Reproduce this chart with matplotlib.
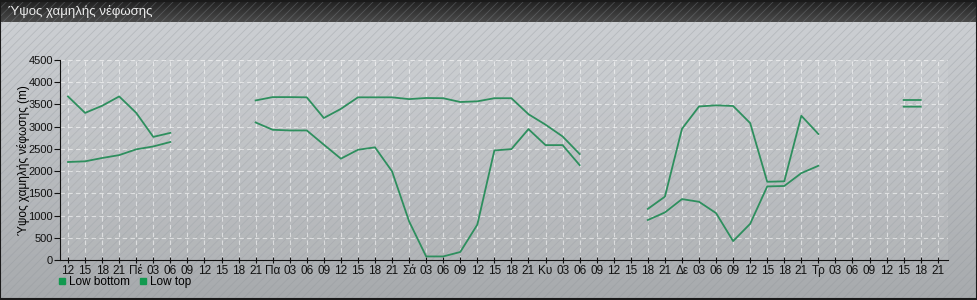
import numpy as np
import matplotlib
matplotlib.use("Agg")
import matplotlib.pyplot as plt
from matplotlib.patches import Rectangle
from matplotlib.colors import LinearSegmentedColormap

plt.rcParams['font.family'] = ['Liberation Sans', 'DejaVu Sans']
plt.rcParams['hatch.linewidth'] = 0.6

N = None
tick_labels = ['12', '15', '18', '21',
               'Πέ', '03', '06', '09', '12', '15', '18', '21',
               'Πα', '03', '06', '09', '12', '15', '18', '21',
               'Σά', '03', '06', '09', '12', '15', '18', '21',
               'Κυ', '03', '06', '09', '12', '15', '18', '21',
               'Δε', '03', '06', '09', '12', '15', '18', '21',
               'Τρ', '03', '06', '09', '12', '15', '18', '21']

low_top = [3680, 3310, 3470, 3680, 3310, 2770, 2860, N, N, N, N,
           3590, 3665, 3665, 3660, 3195, 3400, 3660, 3660, 3660, 3620,
           3645, 3640, 3555, 3570, 3640, 3640, 3280, 3045, 2780, 2385,
           N, N, N,
           1150, 1425, 2950, 3455, 3480, 3465, 3080, 1760, 1770, 3245, 2835,
           N, N, N, N, 3600, 3600, N]

low_bottom = [2205, 2220, 2295, 2360, 2490, 2555, 2655, N, N, N, N,
              3095, 2930, 2915, 2915, 2595, 2280, 2480, 2535, 1995, 870,
              80, 80, 180, 795, 2465, 2495, 2945, 2585, 2585, 2135,
              N, N, N,
              900, 1070, 1370, 1310, 1055, 425, 815, 1655, 1665, 1955, 2120,
              N, N, N, N, 3450, 3450, N]

line_color = '#2e8f5e'

fig = plt.figure(figsize=(9.78, 3.0), dpi=100)

# background gradient + diagonal stripes
bg = fig.add_axes([0, 0, 1, 1], zorder=-10)
bg.set_axis_off()
grad = np.linspace(0, 1, 256).reshape(-1, 1)
cm = LinearSegmentedColormap.from_list('bg', ['#cfd2d6', '#a7aaad'])
bg.imshow(grad, aspect='auto', cmap=cm, extent=[0, 1, 0, 1], origin='upper')
bg.add_patch(Rectangle((0, 0), 1, 1, transform=bg.transAxes, facecolor='none',
                       edgecolor='#8f9499', hatch='////', lw=0, alpha=0.35))
# title bar
cm2 = LinearSegmentedColormap.from_list('tb', ['#1f1f1f', '#4a4a4a'])
bg.imshow(grad, aspect='auto', cmap=cm2, extent=[0, 1, 1 - 22 / 300, 1], origin='upper')
bg.set_xlim(0, 1)
bg.set_ylim(0, 1)
bg.add_patch(Rectangle((0.0005, 0.002), 0.998, 0.996, transform=bg.transAxes,
                       facecolor='none', edgecolor='#1a1a1a', lw=1.5))
fig.text(8 / 978, 1 - 11 / 300, 'Ύψος χαμηλής νέφωσης', color='#ececec',
         fontsize=9.5, va='center', ha='left')

ax = fig.add_axes([60 / 978, 40 / 300, 888 / 978, 200 / 300])
ax.set_facecolor((1, 1, 1, 0.08))
x = np.arange(len(tick_labels))
top = np.array([np.nan if v is None else v for v in low_top], dtype=float)
bot = np.array([np.nan if v is None else v for v in low_bottom], dtype=float)
ax.plot(x, bot, color=line_color, lw=1.3, label='Low bottom')
ax.plot(x, top, color=line_color, lw=1.3, label='Low top')

ax.set_xlim(-0.47, 51.6)
ax.set_ylim(0, 4500)
ax.set_yticks(np.arange(0, 4501, 500))
ax.set_xticks(x)
ax.set_xticklabels(tick_labels)
ax.tick_params(axis='x', direction='inout', length=5, labelsize=8.5, pad=1, colors='#111')
ax.tick_params(axis='y', direction='out', length=4, labelsize=8, pad=1, colors='#111')
ax.grid(True, color='white', ls=(0, (4, 3)), lw=0.8, alpha=0.55)
for s in ['top', 'right']:
    ax.spines[s].set_visible(False)
for s in ['left', 'bottom']:
    ax.spines[s].set_color('#111')
ax.set_ylabel('Ύψος χαμηλής νέφωσης (m)', fontsize=8.5)
ax.yaxis.set_label_coords(-(60 - 30) / 888, 0.5)

leg_handles = [plt.Line2D([], [], marker='s', ls='', color='#12994f', markersize=5),
               plt.Line2D([], [], marker='s', ls='', color='#12994f', markersize=5)]
fig.legend(leg_handles, ['Low bottom', 'Low top'], loc='center left',
           bbox_to_anchor=(58 / 978, 1 - 282 / 300), ncol=2, frameon=False,
           fontsize=8.5, handlelength=0.6, handletextpad=0.3, columnspacing=0.8,
           borderpad=0, borderaxespad=0)

fig.savefig('out.png', dpi=100)
